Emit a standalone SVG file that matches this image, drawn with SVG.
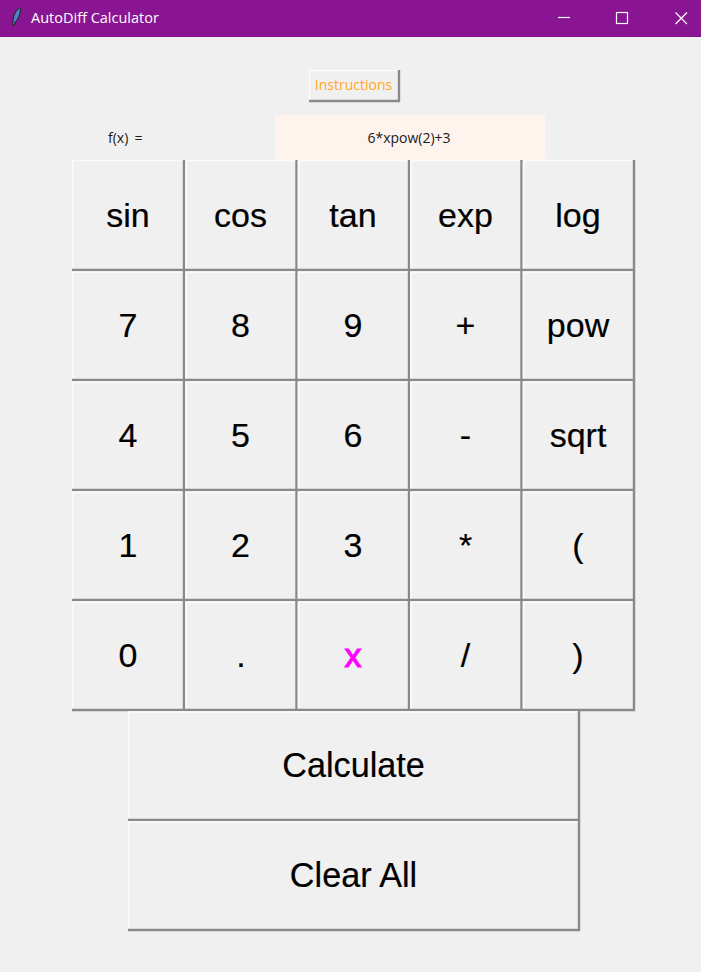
<svg xmlns="http://www.w3.org/2000/svg" width="701" height="972" viewBox="0 0 701 972">
<style>
.face{fill:#f0f0f0}
.hi{fill:none;stroke:#fbfbfb;stroke-width:1.5}
.lo{fill:none;stroke:#898989;stroke-width:2.4}
.key{font-family:"Liberation Sans",Arial,sans-serif;font-size:34px;fill:#000;stroke:#000;stroke-width:.2;text-anchor:middle}
.wide{font-size:34.2px}
.small{font-family:"Open Sans","Noto Sans",sans-serif;font-size:14px;fill:#1a1a1a}
.wc{fill:none;stroke:#fff;stroke-width:1.2}
</style>
<rect width="701" height="972" fill="#f0f0f0"/>
<g id="titlebar">
<rect width="701" height="37" fill="#891593"/>
<path d="M19.500 8C16 10 13.500 15 13 21L12.500 25L14.500 25L15 22C18 20 20.500 14 20.500 8Z" fill="#4d86c4" stroke="#222" stroke-width="1"/>
<text x="31" y="23" font-family="'Open Sans','Noto Sans',sans-serif" font-size="14.500" fill="#fff">AutoDiff Calculator</text>
<path class="wc" d="M558 17.500H570"/>
<rect class="wc" x="616.500" y="12.500" width="11" height="11"/>
<path class="wc" d="M675.500 12.500L687 24M687 12.500L675.500 24"/>
</g>
<g id="instructions">
<rect class="face" x="309" y="70" width="90" height="31"/>
<path class="hi" d="M309.500 101V70.500H399"/>
<path class="lo" d="M309 101H399V70"/>
<text x="353.500" y="90" text-anchor="middle" font-family="'Open Sans','Noto Sans',sans-serif" font-size="14" fill="#ffa726">Instructions</text>
</g>
<g id="fx-label"><text class="small" x="108" y="143" word-spacing="2.500">f(x) =</text></g>
<g id="expression">
<rect x="275" y="115" width="270" height="45" fill="#fff3ee"/>
<text class="small" x="409" y="143" text-anchor="middle">6*xpow(2)+3</text>
</g>
<g id="key-sin"><rect class="face" x="73.200" y="161.200" width="109.600" height="107.600"/><path class="hi" d="M72.500 270V160.500H184"/><path class="lo" d="M72 270H184V160"/><text class="key" x="128" y="227">sin</text></g>
<g id="key-cos"><rect class="face" x="185.200" y="161.200" width="110.100" height="107.600"/><path class="hi" d="M186.200 270V160.500H296"/><path class="lo" d="M184 270H296.500V160"/><text class="key" x="240.500" y="227">cos</text></g>
<g id="key-tan"><rect class="face" x="297.700" y="161.200" width="110.100" height="107.600"/><path class="hi" d="M298.700 270V160.500H409"/><path class="lo" d="M296.500 270H409V160"/><text class="key" x="353" y="227">tan</text></g>
<g id="key-exp"><rect class="face" x="410.200" y="161.200" width="110.100" height="107.600"/><path class="hi" d="M411.200 270V160.500H521"/><path class="lo" d="M409 270H521.500V160"/><text class="key" x="465.500" y="227">exp</text></g>
<g id="key-log"><rect class="face" x="522.700" y="161.200" width="110.100" height="107.600"/><path class="hi" d="M523.700 270V160.500H634"/><path class="lo" d="M521.500 270H634V160"/><text class="key" x="578" y="227">log</text></g>
<g id="key-7"><rect class="face" x="73.200" y="271.200" width="109.600" height="107.600"/><path class="hi" d="M72.500 380V272.200H184"/><path class="lo" d="M72 380H184V270"/><text class="key" x="128" y="337">7</text></g>
<g id="key-8"><rect class="face" x="185.200" y="271.200" width="110.100" height="107.600"/><path class="hi" d="M186.200 380V272.200H296"/><path class="lo" d="M184 380H296.500V270"/><text class="key" x="240.500" y="337">8</text></g>
<g id="key-9"><rect class="face" x="297.700" y="271.200" width="110.100" height="107.600"/><path class="hi" d="M298.700 380V272.200H409"/><path class="lo" d="M296.500 380H409V270"/><text class="key" x="353" y="337">9</text></g>
<g id="key-plus"><rect class="face" x="410.200" y="271.200" width="110.100" height="107.600"/><path class="hi" d="M411.200 380V272.200H521"/><path class="lo" d="M409 380H521.500V270"/><text class="key" x="465.500" y="337">+</text></g>
<g id="key-pow"><rect class="face" x="522.700" y="271.200" width="110.100" height="107.600"/><path class="hi" d="M523.700 380V272.200H634"/><path class="lo" d="M521.500 380H634V270"/><text class="key" x="578" y="337">pow</text></g>
<g id="key-4"><rect class="face" x="73.200" y="381.200" width="109.600" height="107.600"/><path class="hi" d="M72.500 490V382.200H184"/><path class="lo" d="M72 490H184V380"/><text class="key" x="128" y="447">4</text></g>
<g id="key-5"><rect class="face" x="185.200" y="381.200" width="110.100" height="107.600"/><path class="hi" d="M186.200 490V382.200H296"/><path class="lo" d="M184 490H296.500V380"/><text class="key" x="240.500" y="447">5</text></g>
<g id="key-6"><rect class="face" x="297.700" y="381.200" width="110.100" height="107.600"/><path class="hi" d="M298.700 490V382.200H409"/><path class="lo" d="M296.500 490H409V380"/><text class="key" x="353" y="447">6</text></g>
<g id="key-minus"><rect class="face" x="410.200" y="381.200" width="110.100" height="107.600"/><path class="hi" d="M411.200 490V382.200H521"/><path class="lo" d="M409 490H521.500V380"/><text class="key" x="465.500" y="447">-</text></g>
<g id="key-sqrt"><rect class="face" x="522.700" y="381.200" width="110.100" height="107.600"/><path class="hi" d="M523.700 490V382.200H634"/><path class="lo" d="M521.500 490H634V380"/><text class="key" x="578" y="447">sqrt</text></g>
<g id="key-1"><rect class="face" x="73.200" y="491.200" width="109.600" height="107.600"/><path class="hi" d="M72.500 600V492.200H184"/><path class="lo" d="M72 600H184V490"/><text class="key" x="128" y="557">1</text></g>
<g id="key-2"><rect class="face" x="185.200" y="491.200" width="110.100" height="107.600"/><path class="hi" d="M186.200 600V492.200H296"/><path class="lo" d="M184 600H296.500V490"/><text class="key" x="240.500" y="557">2</text></g>
<g id="key-3"><rect class="face" x="297.700" y="491.200" width="110.100" height="107.600"/><path class="hi" d="M298.700 600V492.200H409"/><path class="lo" d="M296.500 600H409V490"/><text class="key" x="353" y="557">3</text></g>
<g id="key-times"><rect class="face" x="410.200" y="491.200" width="110.100" height="107.600"/><path class="hi" d="M411.200 600V492.200H521"/><path class="lo" d="M409 600H521.500V490"/><text class="key" x="465.500" y="557">*</text></g>
<g id="key-lparen"><rect class="face" x="522.700" y="491.200" width="110.100" height="107.600"/><path class="hi" d="M523.700 600V492.200H634"/><path class="lo" d="M521.500 600H634V490"/><text class="key" x="578" y="557">(</text></g>
<g id="key-0"><rect class="face" x="73.200" y="601.200" width="109.600" height="107.600"/><path class="hi" d="M72.500 710V602.200H184"/><path class="lo" d="M72 710H184V600"/><text class="key" x="128" y="667">0</text></g>
<g id="key-dot"><rect class="face" x="185.200" y="601.200" width="110.100" height="107.600"/><path class="hi" d="M186.200 710V602.200H296"/><path class="lo" d="M184 710H296.500V600"/><text class="key" x="241" y="667">.</text></g>
<g id="key-x"><rect class="face" x="297.700" y="601.200" width="110.100" height="107.600"/><path class="hi" d="M298.700 710V602.200H409"/><path class="lo" d="M296.500 710H409V600"/><text class="key" x="353" y="667" style="fill:#ff00ff;stroke:#ff00ff;stroke-width:1.100">x</text></g>
<g id="key-div"><rect class="face" x="410.200" y="601.200" width="110.100" height="107.600"/><path class="hi" d="M411.200 710V602.200H521"/><path class="lo" d="M409 710H521.500V600"/><text class="key" x="465.500" y="667">/</text></g>
<g id="key-rparen"><rect class="face" x="522.700" y="601.200" width="110.100" height="107.600"/><path class="hi" d="M523.700 710V602.200H634"/><path class="lo" d="M521.500 710H634V600"/><text class="key" x="578" y="667">)</text></g>
<g id="calculate"><rect class="face" x="128" y="711.200" width="449.800" height="107.600"/><path class="hi" d="M128.500 820V712H579"/><path class="lo" d="M128 820H579V711"/><text class="key wide" x="353.500" y="777">Calculate</text></g>
<g id="clear-all"><rect class="face" x="128" y="821.200" width="449.800" height="107.600"/><path class="hi" d="M128.500 930V822H578"/><path class="lo" d="M128 930H579V820"/><text class="key wide" x="353.500" y="887">Clear All</text></g>
</svg>
